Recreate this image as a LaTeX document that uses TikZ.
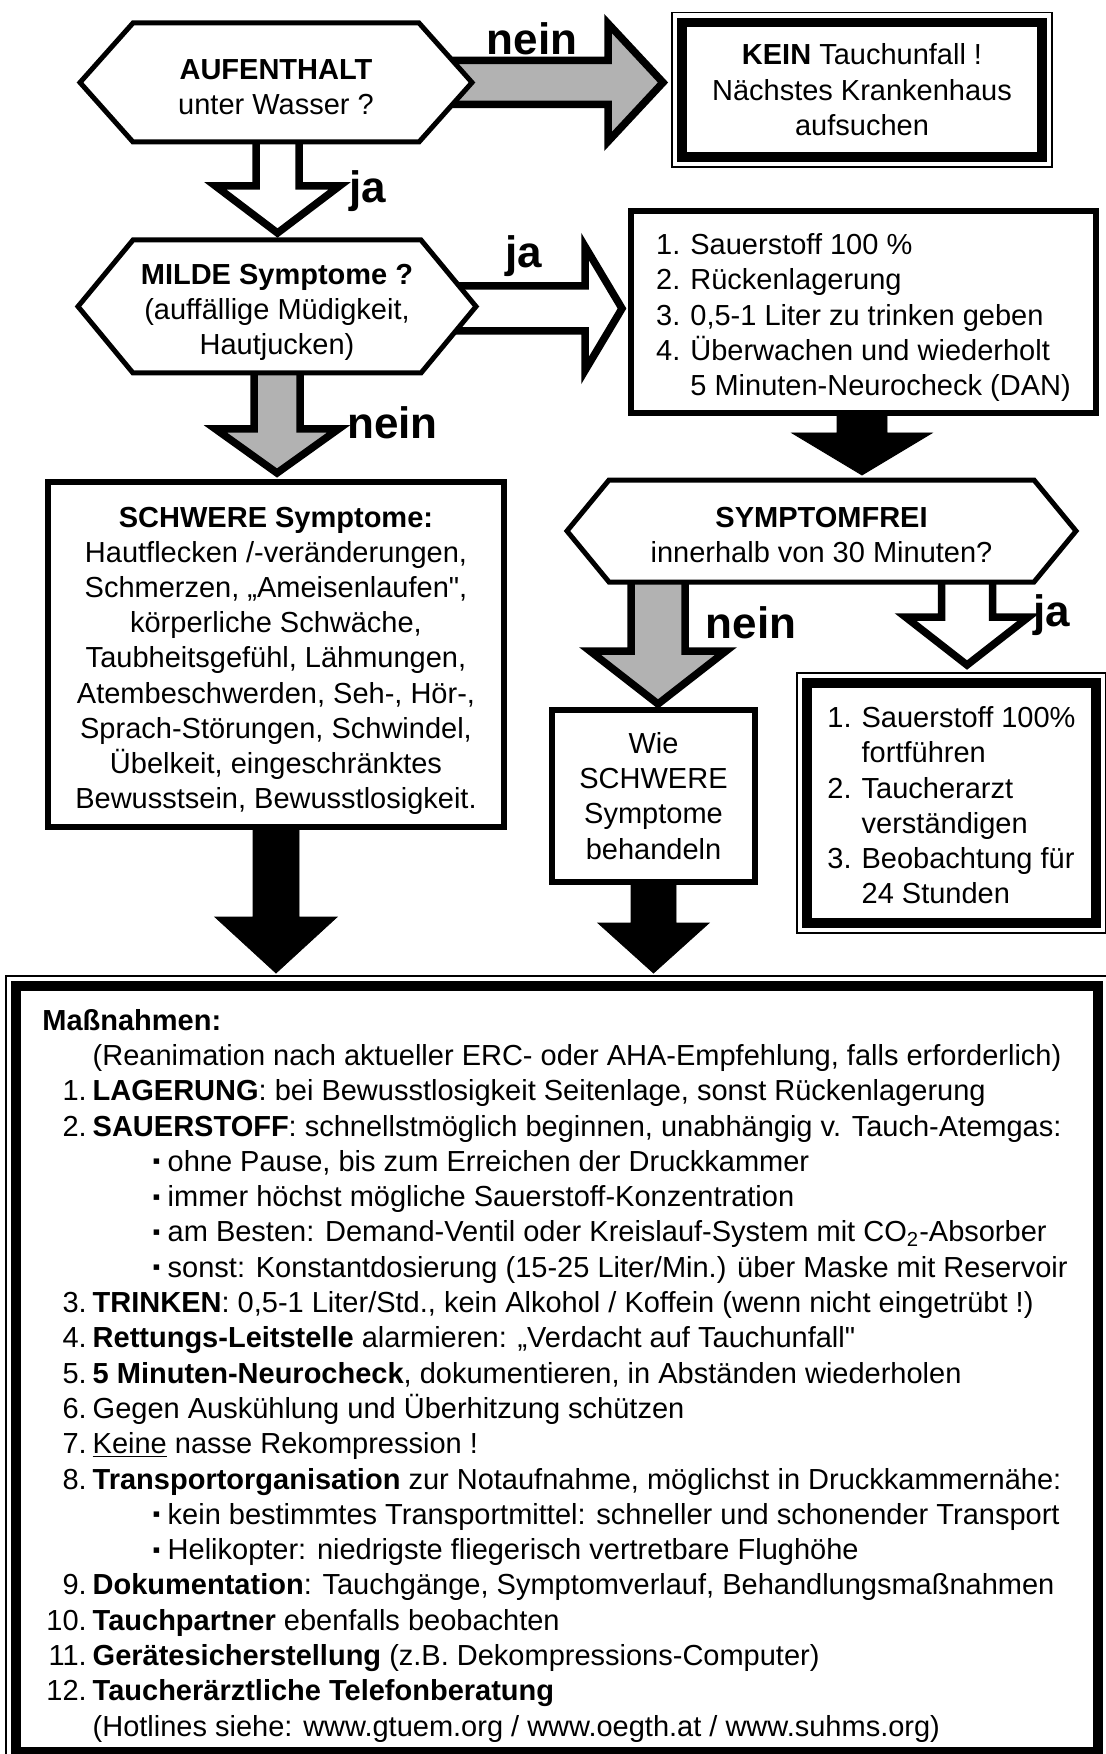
\documentclass[tikz,border=0pt]{standalone}
\usepackage{fontspec}
\setmainfont{Liberation Sans}
\usetikzlibrary{calc}

\definecolor{arrowgray}{RGB}{178,178,178}
\pgfdeclarelayer{back}
\pgfdeclarelayer{mid}
\pgfsetlayers{back,mid,main}

\tikzset{
  hexnode/.style={inner sep=0pt, outer sep=0pt, align=center},
  hexline/.style={line width=2.5pt, fill=white, line join=miter},
  textbox/.style={draw, line width=2.75pt, fill=white, inner sep=0pt, outer sep=0pt, align=center},
  doublebox/.style={textbox, line width=4.75pt},
  thinframe/.style={line width=0.75pt},
  whitearrow/.style={draw, fill=white, line width=3.75pt, line join=miter, miter limit=20},
  grayarrow/.style={whitearrow, fill=arrowgray},
  blackarrow/.style={fill=black},
  blocklabel/.style={font=\fontsize{22}{26}\selectfont\bfseries, anchor=base, inner sep=0pt},
}

% block arrows: from, to, shaft half width, head half width, head length, style
\newcommand{\blockdown}[6]{%
  \draw[#6] let \p1=#1, \p2=#2 in
    (\x1-#3,\y1) -- (\x1-#3,\y2+#5) -- (\x1-#4,\y2+#5) -- (\x1,\y2)
    -- (\x1+#4,\y2+#5) -- (\x1+#3,\y2+#5) -- (\x1+#3,\y1);}
\newcommand{\blockright}[6]{%
  \draw[#6] let \p1=#1, \p2=#2 in
    (\x1,\y1+#3) -- (\x2-#5,\y1+#3) -- (\x2-#5,\y1+#4) -- (\x2,\y1)
    -- (\x2-#5,\y1-#4) -- (\x2-#5,\y1-#3) -- (\x1,\y1-#3);}
% hexagon round a text node
\newcommand{\hexframe}[2]{%
  \draw[hexline] (#1.north west) -- (#1.north east) -- ([xshift=#2]#1.east)
    -- (#1.south east) -- (#1.south west) -- ([xshift=-#2]#1.west) -- cycle;
  \coordinate (#1-e) at ([xshift=#2]#1.east);}
\newcommand{\bulletsq}{\hspace*{30pt}\makebox[7.5pt][l]{\raisebox{1.2pt}{\fontsize{11}{11}\selectfont ▪}}}
\newcommand{\firstline}[1]{\rule{0pt}{#1}}

\begin{document}
\begin{tikzpicture}[x=0.5pt, y=-0.5pt, font=\fontsize{14.5}{17.6}\selectfont]
  \useasboundingbox (0,0) rectangle (1106,1754);

  % questions
  \node[hexnode, minimum width=143pt, minimum height=59.5pt] (aufenthalt) at (276,82.5)
    {\firstline{14.5pt}\textbf{AUFENTHALT}\\unter Wasser ?};
  \node[hexnode, minimum width=144pt, minimum height=66.5pt] (milde) at (277,306.5)
    {\firstline{16pt}\textbf{MILDE Symptome ?}\\(auffällige Müdigkeit,\\Hautjucken)};
  \node[hexnode, minimum width=212.5pt, minimum height=51pt] (symptomfrei) at (821.5,531)
    {\firstline{14pt}\textbf{SYMPTOMFREI}\\innerhalb von 30 Minuten?};
  \begin{pgfonlayer}{mid}
    \hexframe{aufenthalt}{26.5pt}
    \hexframe{milde}{27.5pt}
    \hexframe{symptomfrei}{21pt}
  \end{pgfonlayer}

  % boxes
  \node[doublebox, minimum width=180pt, minimum height=67.25pt] (kein) at (862,89.75)
    {\textbf{KEIN} Tauchunfall !\\Nächstes Krankenhaus\\aufsuchen};
  \node[textbox, minimum width=232.5pt, minimum height=101pt] (sauerstoff) at (863.5,312)
    {\begin{tabular}{@{}r@{\hspace{5pt}}l@{}}
      \firstline{18.3pt}1. & Sauerstoff 100 \%\\
      2. & Rückenlagerung\\
      3. & 0,5-1 Liter zu trinken geben\\
      4. & Überwachen und wiederholt\\
         & 5 Minuten-Neurocheck (DAN)
    \end{tabular}};
  \node[textbox, minimum width=228pt, minimum height=172.5pt] (schwere) at (276,654.5)
    {\firstline{16.4pt}\textbf{SCHWERE Symptome:}\\Hautflecken /-veränderungen,\\Schmerzen, „Ameisenlaufen\textquotedbl,\\
     körperliche Schwäche,\\Taubheitsgefühl, Lähmungen,\\Atembeschwerden, Seh-, Hör-,\\
     Sprach-Störungen, Schwindel,\\Übelkeit, eingeschränktes\\Bewusstsein, Bewusstlosigkeit.};
  \node[textbox, minimum width=101.5pt, minimum height=86pt] (wie) at (653.5,796)
    {Wie\\SCHWERE\\Symptome\\behandeln};
  \node[doublebox, minimum width=144.5pt, minimum height=120pt] (fortfuehren) at (951.5,803)
    {\begin{tabular}{@{}r@{\hspace{5pt}}l@{}}
      \firstline{17.9pt}1. & Sauerstoff 100\%\\
         & fortführen\\
      2. & Taucherarzt\\
         & verständigen\\
      3. & Beobachtung für\\
         & 24 Stunden
    \end{tabular}};
  \node[doublebox, minimum width=541pt, minimum height=383pt] (massnahmen) at (557,1369) {};
  \node[anchor=north west, inner sep=0pt, font=\fontsize{14.5}{17.65}\selectfont] (massText) at (46,1005)
    {\begin{tabular}{@{}r@{\hspace{3pt}}l@{}}
      \multicolumn{2}{@{\hspace{-2pt}}l@{}}{\textbf{Maßnahmen:}}\\
       & (Reanimation nach aktueller ERC- oder AHA-Empfehlung, falls erforderlich)\\
      1. & \textbf{LAGERUNG}: bei Bewusstlosigkeit Seitenlage, sonst Rückenlagerung\\
      2. & \textbf{SAUERSTOFF}: schnellstmöglich beginnen, unabhängig v. Tauch-Atemgas:\\
       & \bulletsq ohne Pause, bis zum Erreichen der Druckkammer\\
       & \bulletsq immer höchst mögliche Sauerstoff-Konzentration\\
       & \bulletsq am Besten: Demand-Ventil oder Kreislauf-System mit CO\textsubscript{2}-Absorber\\
       & \bulletsq sonst: Konstantdosierung (15-25 Liter/Min.) über Maske mit Reservoir\\
      3. & \textbf{TRINKEN}: 0,5-1 Liter/Std., kein Alkohol / Koffein (wenn nicht eingetrübt !)\\
      4. & \textbf{Rettungs-Leitstelle} alarmieren: „Verdacht auf Tauchunfall\textquotedbl\\
      5. & \textbf{5 Minuten-Neurocheck}, dokumentieren, in Abständen wiederholen\\
      6. & Gegen Auskühlung und Überhitzung schützen\\
      7. & \underline{Keine} nasse Rekompression !\\
      8. & \textbf{Transportorganisation} zur Notaufnahme, möglichst in Druckkammernähe:\\
       & \bulletsq kein bestimmtes Transportmittel: schneller und schonender Transport\\
       & \bulletsq Helikopter: niedrigste fliegerisch vertretbare Flughöhe\\
      9. & \textbf{Dokumentation}: Tauchgänge, Symptomverlauf, Behandlungsmaßnahmen\\
      10. & \textbf{Tauchpartner} ebenfalls beobachten\\
      11. & \textbf{Gerätesicherstellung} (z.B. Dekompressions-Computer)\\
      12. & \textbf{Taucherärztliche Telefonberatung}\\
       & (Hotlines siehe: www.gtuem.org / www.oegth.at / www.suhms.org)
    \end{tabular}};
  \foreach \b in {kein,fortfuehren,massnahmen}
    \draw[thinframe] ([shift={(-5pt,5pt)}]\b.north west) rectangle ([shift={(5pt,-5pt)}]\b.south east);

  % block arrows
  \begin{pgfonlayer}{back}
    \blockright{([xshift=-25pt]aufenthalt-e)}{([xshift=-9.5pt]kein.west)}{11pt}{29.5pt}{27.5pt}{grayarrow}
    \blockdown{([xshift=0.75pt]aufenthalt.south)}{([yshift=3.5pt]milde.north)}{10.75pt}{31pt}{23.5pt}{whitearrow}
    \blockright{([xshift=-25pt,yshift=-1pt]milde-e)}{([xshift=-4.5pt]sauerstoff.west)}{11.25pt}{31pt}{18.5pt}{whitearrow}
    \blockdown{(milde.south)}{([yshift=4.5pt]schwere.north)}{11.5pt}{30.75pt}{22pt}{grayarrow}
    \blockdown{([xshift=-0.75pt]sauerstoff.south)}{([yshift=2.5pt]symptomfrei.north)}{12.5pt}{35pt}{21pt}{blackarrow}
    \blockdown{([xshift=24.5pt]symptomfrei.south west)}{([yshift=3pt]wie.north)}{13.5pt}{34pt}{26.5pt}{grayarrow}
    \blockdown{([xshift=-33.5pt]symptomfrei.south east)}{([yshift=9pt]fortfuehren.north)}{12.75pt}{30.75pt}{24pt}{whitearrow}
    \blockdown{(schwere.south)}{([yshift=6.5pt]massnahmen.north)}{11.5pt}{30.5pt}{28pt}{blackarrow}
    \blockdown{(wie.south)}{([yshift=6.5pt]massnahmen.north)}{11.25pt}{27.75pt}{25pt}{blackarrow}
  \end{pgfonlayer}

  % labels
  \node[blocklabel] (neinA) at (532,55) {nein};
  \node[blocklabel] (jaA) at (367.5,203) {ja};
  \node[blocklabel] (jaB) at (524,268) {ja};
  \node[blocklabel] (neinB) at (392.5,439) {nein};
  \node[blocklabel] (neinC) at (751,638) {nein};
  \node[blocklabel] (jaC) at (1052,626) {ja};
\end{tikzpicture}
\end{document}
